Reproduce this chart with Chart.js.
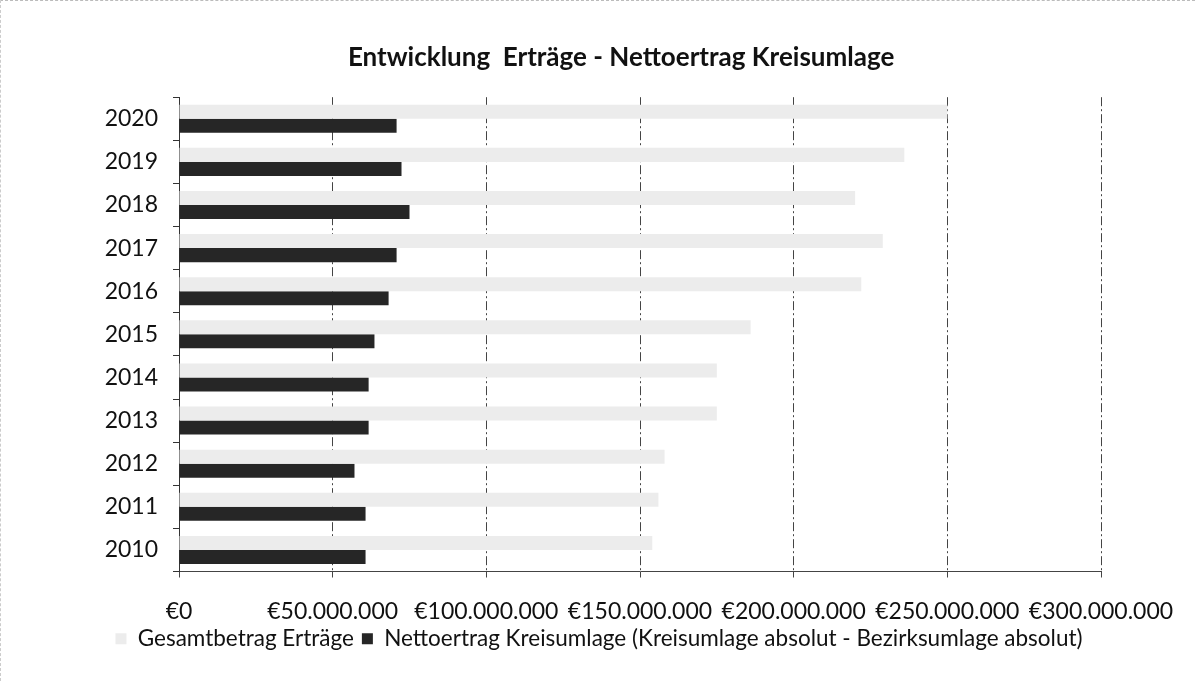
<!DOCTYPE html>
<html lang="de">
  <head>
    <meta charset="UTF-8" />
    <title>Entwicklung Erträge - Nettoertrag Kreisumlage</title>
    <script src="https://cdn.jsdelivr.net/npm/chart.js"></script>
    <style>
      html, body { margin: 0; padding: 0; background: #fff; }
      .frame {
        position: relative;
        width: 1195px;
        height: 681px;
        box-sizing: border-box;
        border-top: 1px dashed #bbb;
        border-left: 1px dashed #ccc;
      }
      canvas { display: block; }
    </style>
  </head>
  <body>
    <div class="frame">
      <canvas id="chart" width="1194" height="680"></canvas>
    </div>

    <script>
      // values (EUR)
      const years = ["2020", "2019", "2018", "2017", "2016", "2015", "2014", "2013", "2012", "2011", "2010"];
      const gesamtErtraege = [250e6, 236e6, 220e6, 229e6, 222e6, 186e6, 175e6, 175e6, 158e6, 156e6, 154e6];
      const nettoKreisumlage = [70.8e6, 72.4e6, 75e6, 70.8e6, 68.2e6, 63.6e6, 61.7e6, 61.7e6, 57.1e6, 60.7e6, 60.7e6];
      const xTickLabels = ["€0", "€50.000.000", "€100.000.000", "€150.000.000", "€200.000.000", "€250.000.000", "€300.000.000"];

      const font = "Lato, 'Open Sans', sans-serif";
      // the title sits a bit right of the canvas centre in the original
      const titlePad = "\u00a0".repeat(7);

      new Chart(document.getElementById("chart"), {
        type: "bar",
        data: {
          labels: years,
          datasets: [
            {
              label: "Gesamtbetrag Erträge",
              data: gesamtErtraege,
              backgroundColor: "#ececec",
              borderWidth: 0,
            },
            {
              label: "Nettoertrag Kreisumlage (Kreisumlage absolut - Bezirksumlage absolut)",
              data: nettoKreisumlage,
              backgroundColor: "#262626",
              borderWidth: 0,
            },
          ],
        },
        options: {
          indexAxis: "y",
          responsive: false,
          animation: false,
          datasets: { bar: { categoryPercentage: 0.65, barPercentage: 1.0 } },
          layout: { padding: { left: 96, right: 94, top: 41, bottom: 21 } },
          plugins: {
            title: {
              display: true,
              text: titlePad + "Entwicklung  Erträge - Nettoertrag Kreisumlage",
              color: "#111",
              font: { family: font, size: 26, weight: "bold" },
              padding: { top: 0, bottom: 24 },
            },
            legend: {
              position: "bottom",
              labels: {
                color: "#111",
                font: { family: font, size: 22.5 },
                boxWidth: 11,
                boxHeight: 11,
                padding: 8,
              },
            },
            tooltip: { enabled: false },
          },
          scales: {
            x: {
              min: 0,
              max: 300e6,
              afterFit: (s) => { s.height = 48; },
              ticks: {
                stepSize: 50e6,
                autoSkip: false,
                maxRotation: 0,
                color: "#111",
                font: { family: font, size: 23 },
                padding: 20,
                callback: (v, i) => xTickLabels[i],
              },
              grid: {
                color: "#444",
                lineWidth: 1,
                tickLength: 6,
              },
              border: { color: "#444", dash: [9, 3, 2, 3] },
            },
            y: {
              afterFit: (s) => { s.width = 82; },
              ticks: {
                color: "#111",
                font: { family: font, size: 23 },
                padding: 15,
              },
              grid: {
                drawOnChartArea: false,
                offset: true,
                color: "#333",
                tickLength: 6,
              },
              border: { color: "#333" },
            },
          },
        },
      });
    </script>
  </body>
</html>
